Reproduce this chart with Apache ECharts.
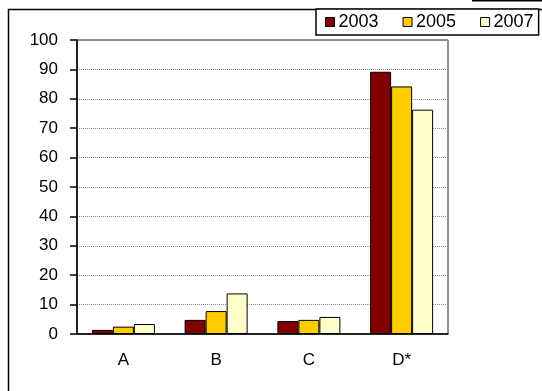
<!DOCTYPE html>
<html>
<head>
<meta charset="utf-8">
<script src="https://cdn.jsdelivr.net/npm/echarts@6/dist/echarts.min.js"></script>
<style>
  html, body { margin: 0; padding: 0; background: #fff; }
  #chart { width: 542px; height: 391px; }
</style>
</head>
<body>
<div id="chart"></div>
<script>
// categories + one array per year
var categories = ['A', 'B', 'C', 'D*'];
var years = ['2003', '2005', '2007'];
var values2003 = [1.4, 4.8, 4.4, 89.2];
var values2005 = [2.5, 7.8, 4.8, 84.2];
var values2007 = [3.4, 13.8, 5.8, 76.3];
var colors = ['#800000', '#FFCC00', '#FFFFCC'];
var yTicks = { min: 0, max: 100, interval: 10 };

var font = 'Liberation Sans, Arial, sans-serif';

function barSeries(name, data, color) {
    return {
        name: name,
        type: 'bar',
        data: data,
        barWidth: 21,
        barGap: '0%',
        itemStyle: { color: color, borderColor: '#000', borderWidth: 1 }
    };
}

var chart = echarts.init(document.getElementById('chart'));
chart.setOption({
    animation: false,
    backgroundColor: '#fff',
    color: colors,
    grid: {
        left: 77, right: 94, top: 40, bottom: 57,
        show: true, borderColor: '#222', borderWidth: 1, backgroundColor: 'transparent'
    },
    legend: {
        data: years,
        left: 316, top: 9,
        padding: [4, 5, 4, 9],
        itemWidth: 9, itemHeight: 9, itemGap: 24,
        icon: 'rect',
        borderColor: '#000', borderWidth: 1.5,
        backgroundColor: '#fff',
        itemStyle: { borderColor: '#000', borderWidth: 1 },
        textStyle: { fontFamily: font, fontSize: 18, color: '#000', padding: [0, 0, 0, -1] }
    },
    xAxis: {
        type: 'category',
        data: categories,
        axisLine: { lineStyle: { color: '#000', width: 1.5 } },
        axisTick: { length: 6, lineStyle: { color: '#000', width: 1.5 } },
        axisLabel: { fontFamily: font, fontSize: 17, color: '#000', margin: 18 }
    },
    yAxis: {
        type: 'value',
        min: yTicks.min, max: yTicks.max, interval: yTicks.interval,
        axisLine: { show: true, lineStyle: { color: '#000', width: 1.5 } },
        axisTick: { show: true, length: 7, lineStyle: { color: '#000', width: 1.5 } },
        axisLabel: { fontFamily: font, fontSize: 17, color: '#000', margin: 19 },
        splitLine: { lineStyle: { color: '#888', width: 1, type: 'dotted' } }
    },
    series: [
        barSeries(years[0], values2003, colors[0]),
        barSeries(years[1], values2005, colors[1]),
        barSeries(years[2], values2007, colors[2])
    ],
    graphic: [
        // outer chart frame, runs off the bottom/right of the picture
        { type: 'rect', z: -1, shape: { x: 8.5, y: 9.5, width: 600, height: 500 },
          style: { fill: 'none', stroke: '#000', lineWidth: 1.5 } },
        { type: 'line', shape: { x1: 472, y1: 0.5, x2: 542, y2: 0.5 },
          style: { stroke: '#000', lineWidth: 2 } }
    ]
});
</script>
</body>
</html>
